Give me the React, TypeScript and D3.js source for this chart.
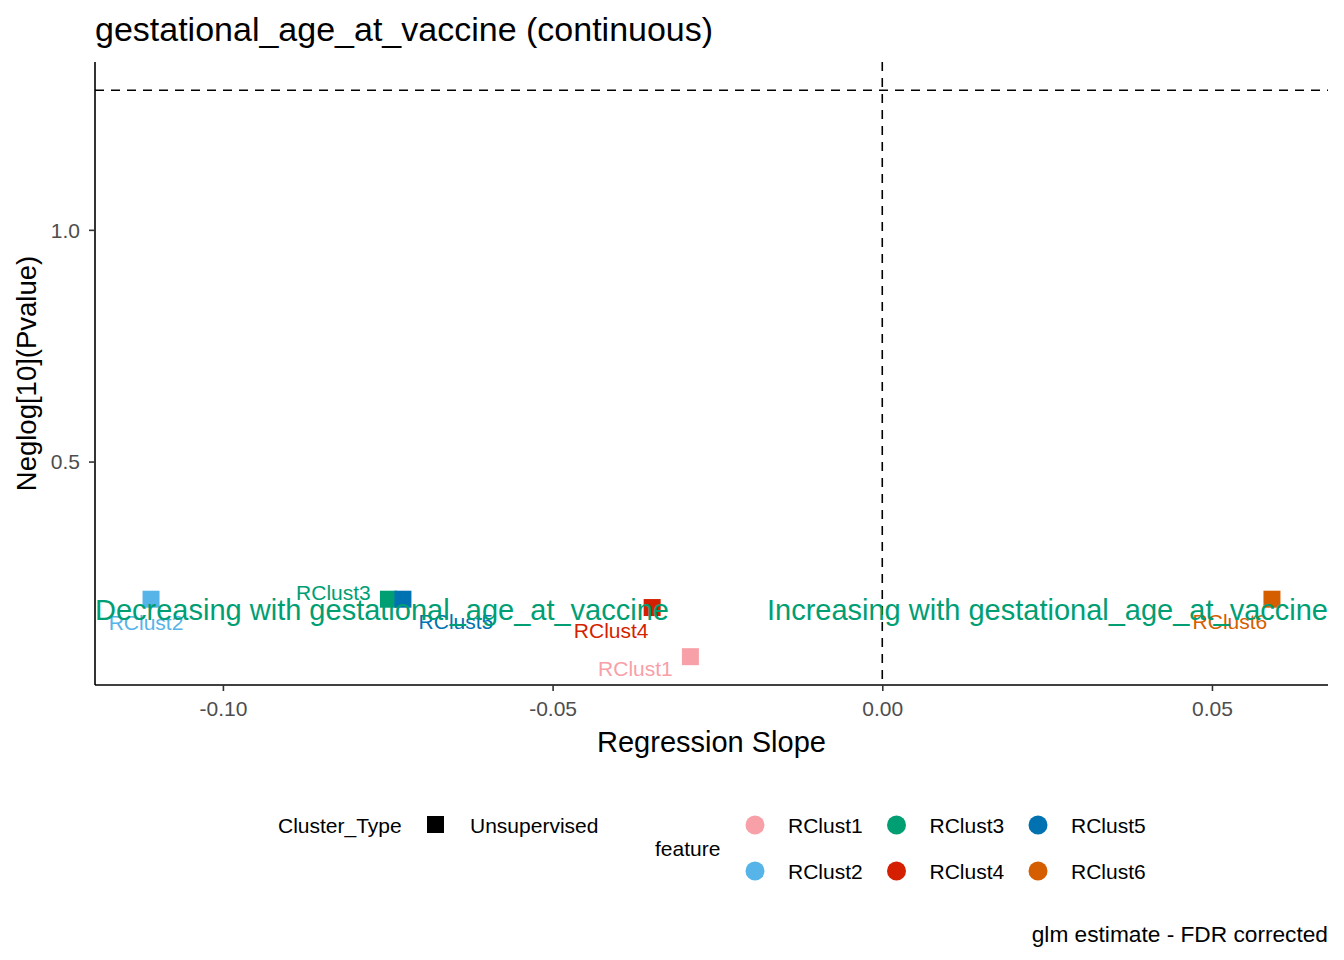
import React, { useRef, useEffect } from 'react';
import * as d3 from 'd3';

// data
const features = ['RClust1', 'RClust2', 'RClust3', 'RClust4', 'RClust5', 'RClust6'];
const slopes = [-0.0291, -0.1109, -0.0749, -0.0349, -0.0727, 0.0591];
const negLogP = [0.079, 0.203, 0.203, 0.185, 0.203, 0.203];
const featureColors = ['#F8A0A8', '#56B4E9', '#009E73', '#D41F00', '#0072B2', '#D55E00'];
const clusterTypes = ['Unsupervised'];
const xTicks = [-0.1, -0.05, 0, 0.05];
const yTicks = [0.5, 1.0];
const pCutoff = 0.05;
const annotY = 0.18;

// ggrepel-ish label nudges, in px relative to the point
const labelNudge: [number, number][] = [
  [-55, 11.5], [-5, 23], [-55, -6.5], [-41, 23], [53, 22], [-42, 22.5],
];

const FONT = '"Liberation Sans", Arial, sans-serif';

// R prints a plain hyphen, not the unicode minus
const fmt = (spec: string) => (v: d3.NumberValue) => d3.format(spec)(v).replace('\u2212', '-');

const App: React.FC = () => {
  const svgRef = useRef<SVGSVGElement>(null);

  useEffect(() => {
    document.body.style.margin = '0';
    if (!svgRef.current) return;
    const svg = d3.select(svgRef.current);
    svg.selectAll('*').remove();

    const W = 1344, H = 960;
    const panel = { left: 95, right: 1328, top: 62, bottom: 685 };
    const threshold = -Math.log10(pCutoff);

    // ggplot-style 5% expansion
    const xExt = d3.extent([...slopes, 0]) as [number, number];
    const yExt = d3.extent([...negLogP, threshold]) as [number, number];
    const xPad = (xExt[1] - xExt[0]) * 0.05;
    const yPad = (yExt[1] - yExt[0]) * 0.05;

    const x = d3.scaleLinear().domain([xExt[0] - xPad, xExt[1] + xPad]).range([panel.left, panel.right]);
    const y = d3.scaleLinear().domain([yExt[0] - yPad, yExt[1] + yPad]).range([panel.bottom, panel.top]);

    svg.attr('width', W).attr('height', H).style('font-family', FONT);
    svg.append('rect').attr('width', W).attr('height', H).attr('fill', 'white');

    // title
    svg.append('text')
      .attr('x', panel.left).attr('y', 41)
      .style('font-size', '34px').attr('fill', 'black')
      .text('gestational_age_at_vaccine (continuous)');

    // reference lines
    svg.append('line')
      .attr('x1', panel.left).attr('x2', panel.right)
      .attr('y1', y(threshold)).attr('y2', y(threshold))
      .attr('stroke', 'black').attr('stroke-width', 1.6).attr('stroke-dasharray', '9,7');
    svg.append('line')
      .attr('x1', x(0)).attr('x2', x(0))
      .attr('y1', panel.top).attr('y2', panel.bottom)
      .attr('stroke', 'black').attr('stroke-width', 1.6).attr('stroke-dasharray', '9,7');

    // axes
    const xAxis = svg.append('g').attr('transform', `translate(0,${panel.bottom})`)
      .call(d3.axisBottom(x).tickValues(xTicks).tickSize(6).tickFormat(fmt('.2f')));
    const yAxis = svg.append('g').attr('transform', `translate(${panel.left},0)`)
      .call(d3.axisLeft(y).tickValues(yTicks).tickSize(6).tickFormat(fmt('.1f')));
    [xAxis, yAxis].forEach(a => {
      a.select('.domain').attr('stroke', 'black').attr('stroke-width', 1.6);
      a.selectAll('.tick line').attr('stroke', '#333333').attr('stroke-width', 1.6);
      a.selectAll('.tick text')
        .attr('fill', '#4D4D4D').style('font-size', '21px').style('font-family', FONT);
    });
    xAxis.select('.domain').attr('d', `M${panel.left},0H${panel.right}`);
    yAxis.select('.domain').attr('d', `M0,${panel.top}V${panel.bottom}`);
    xAxis.selectAll('.tick text').attr('y', 16).attr('dy', '0.71em');
    yAxis.selectAll('.tick text').attr('x', -15).attr('dy', '0.35em');

    // axis titles
    svg.append('text')
      .attr('x', (panel.left + panel.right) / 2).attr('y', 752)
      .attr('text-anchor', 'middle').style('font-size', '29px')
      .text('Regression Slope');
    svg.append('text')
      .attr('transform', `translate(36,${(panel.top + panel.bottom) / 2}) rotate(-90)`)
      .attr('text-anchor', 'middle').style('font-size', '27.5px')
      .text('Neglog[10](Pvalue)');

    // points
    const pts = features.map((f, i) => ({ f, sx: slopes[i], p: negLogP[i], c: featureColors[i], n: labelNudge[i] }));
    const sq = 17;
    svg.append('g').selectAll('rect').data(pts).enter().append('rect')
      .attr('x', d => x(d.sx) - sq / 2).attr('y', d => y(d.p) - sq / 2)
      .attr('width', sq).attr('height', sq).attr('fill', d => d.c);

    // point labels
    svg.append('g').selectAll('text').data(pts).enter().append('text')
      .attr('x', d => x(d.sx) + d.n[0]).attr('y', d => y(d.p) + d.n[1])
      .attr('dy', '0.35em').attr('text-anchor', 'middle')
      .style('font-size', '21px').attr('fill', d => d.c)
      .text(d => d.f);

    // direction annotations
    svg.append('text')
      .attr('x', panel.left).attr('y', y(annotY)).attr('dy', '0.35em')
      .style('font-size', '29px').attr('fill', '#009E73')
      .text('Decreasing with gestational_age_at_vaccine');
    svg.append('text')
      .attr('x', panel.right).attr('y', y(annotY)).attr('dy', '0.35em')
      .attr('text-anchor', 'end')
      .style('font-size', '29px').attr('fill', '#009E73')
      .text('Increasing with gestational_age_at_vaccine');

    // legends
    const lg = svg.append('g').style('font-size', '21px');
    lg.append('text').attr('x', 278).attr('y', 826).attr('dy', '0.35em').text('Cluster_Type');
    clusterTypes.forEach((t, i) => {
      lg.append('rect').attr('x', 427).attr('y', 816 + i * 46).attr('width', 17).attr('height', 17).attr('fill', 'black');
      lg.append('text').attr('x', 470).attr('y', 826 + i * 46).attr('dy', '0.35em').text(t);
    });
    lg.append('text').attr('x', 655).attr('y', 849).attr('dy', '0.35em').text('feature');
    features.forEach((f, i) => {
      const col = Math.floor(i / 2), row = i % 2;
      const cx = 755 + col * 141.5, cy = 825 + row * 46;
      lg.append('circle').attr('cx', cx).attr('cy', cy).attr('r', 9.5).attr('fill', featureColors[i]);
      lg.append('text').attr('x', cx + 33).attr('y', cy + 1).attr('dy', '0.35em').text(f);
    });

    // caption
    svg.append('text')
      .attr('x', panel.right).attr('y', 942).attr('text-anchor', 'end')
      .style('font-size', '22.7px').text('glm estimate - FDR corrected');
  }, []);

  return <svg ref={svgRef} style={{ display: 'block' }}></svg>;
};

export default App;
